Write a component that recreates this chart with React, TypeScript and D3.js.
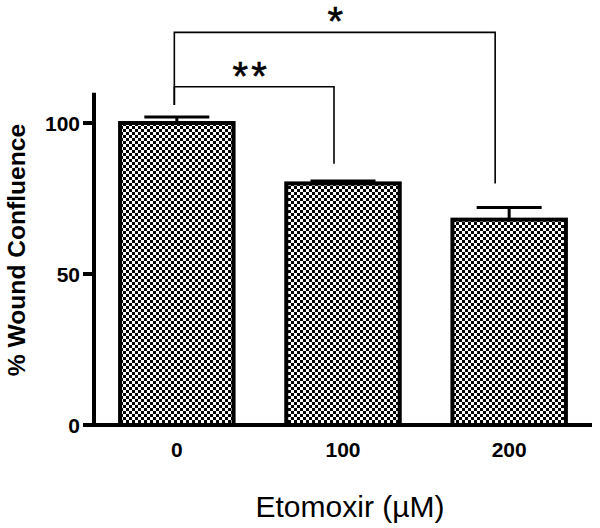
import React from 'react';
import * as d3 from 'd3';

// doses of etomoxir (µM)
const categories = ['0', '100', '200'];
const means = [100, 80, 68];
const errors = [2, 0.8, 4];
const yTicks = [0, 50, 100];

// significance brackets: from / to category, bracket level, leg ends (value units)
const bracketFrom = ['0', '0'];
const bracketTo = ['100', '200'];
const bracketLevel = [112, 130];
const bracketLeftEnd = [106, 106];
const bracketRightEnd = [86.5, 80];
const bracketLabels = ['**', '*'];

const W = 600;
const H = 528;

const App = () => {
  const x = d3.scaleBand<string>()
    .domain(categories)
    .range([94, 592])
    .paddingInner(0.317)
    .paddingOuter(0.157);

  const y = d3.scaleLinear().domain([0, 110]).range([425, 92.8]);

  const cx = (c: string) => (x(c) as number) + x.bandwidth() / 2;
  // the bracket legs sit a little left of the bar centres in the original
  const legShift: Record<string, number> = { '0': -2.5, '100': -9, '200': -14 };

  return (
    <svg width={W} height={H} style={{ position: 'absolute', left: 0, top: 0, background: '#fff' }}
      fontFamily="Arial, 'Liberation Sans', sans-serif">
      <defs>
        <pattern id="checker" width={6} height={6} patternUnits="userSpaceOnUse">
          <rect width={6} height={6} fill="#fff" />
          <rect width={3} height={3} fill="#000" />
          <rect x={3} y={3} width={3} height={3} fill="#000" />
        </pattern>
      </defs>

      {/* bars */}
      {categories.map((c, i) => (
        <rect key={c}
          x={x(c)} y={y(means[i])}
          width={x.bandwidth()} height={y(0) - y(means[i])}
          fill="url(#checker)" stroke="#000" strokeWidth={4} />
      ))}

      {/* error bars (upper only) */}
      {categories.map((c, i) => (
        <g key={'e' + c} stroke="#000" strokeWidth={3}>
          <line x1={cx(c)} x2={cx(c)} y1={y(means[i])} y2={y(means[i] + errors[i])} />
          <line x1={cx(c) - 32.5} x2={cx(c) + 32.5} y1={y(means[i] + errors[i])} y2={y(means[i] + errors[i])} />
        </g>
      ))}

      {/* axes */}
      <line x1={94} x2={94} y1={y(110)} y2={y(0) + 2} stroke="#000" strokeWidth={4} />
      <line x1={92} x2={592} y1={y(0)} y2={y(0)} stroke="#000" strokeWidth={4} />
      {yTicks.map(t => (
        <g key={t}>
          <line x1={83} x2={94} y1={y(t)} y2={y(t)} stroke="#000" strokeWidth={4} />
          <text x={80} y={y(t)} dy="0.36em" textAnchor="end" fontSize={21} fontWeight="bold">{t}</text>
        </g>
      ))}
      {categories.map(c => (
        <text key={'t' + c} x={cx(c)} y={457} textAnchor="middle" fontSize={21} fontWeight="bold">{c}</text>
      ))}

      {/* axis titles */}
      <text transform={`translate(25, ${250}) rotate(-90)`} textAnchor="middle" fontSize={24.6} fontWeight="bold">
        % Wound Confluence
      </text>
      <text x={350} y={517} textAnchor="middle" fontSize={30}>Etomoxir (µM)</text>

      {/* significance brackets */}
      {bracketFrom.map((f, i) => {
        const x1 = cx(f) + legShift[f];
        const x2 = cx(bracketTo[i]) + legShift[bracketTo[i]];
        const yl = y(bracketLevel[i]);
        return (
          <g key={'b' + i}>
            <path
              d={`M${x1},${y(bracketLeftEnd[i])}V${yl}H${x2}V${y(bracketRightEnd[i])}`}
              fill="none" stroke="#000" strokeWidth={1.6} />
            <text x={bracketLabels[i].length > 1 ? (x1 + x2) / 2 - 3 : (x1 + x2) / 2 + 2} y={yl + 3}
              textAnchor="middle" fontSize={40} letterSpacing={3}
              stroke="#000" strokeWidth={0.6}>{bracketLabels[i]}</text>
          </g>
        );
      })}
    </svg>
  );
};

export default App;
